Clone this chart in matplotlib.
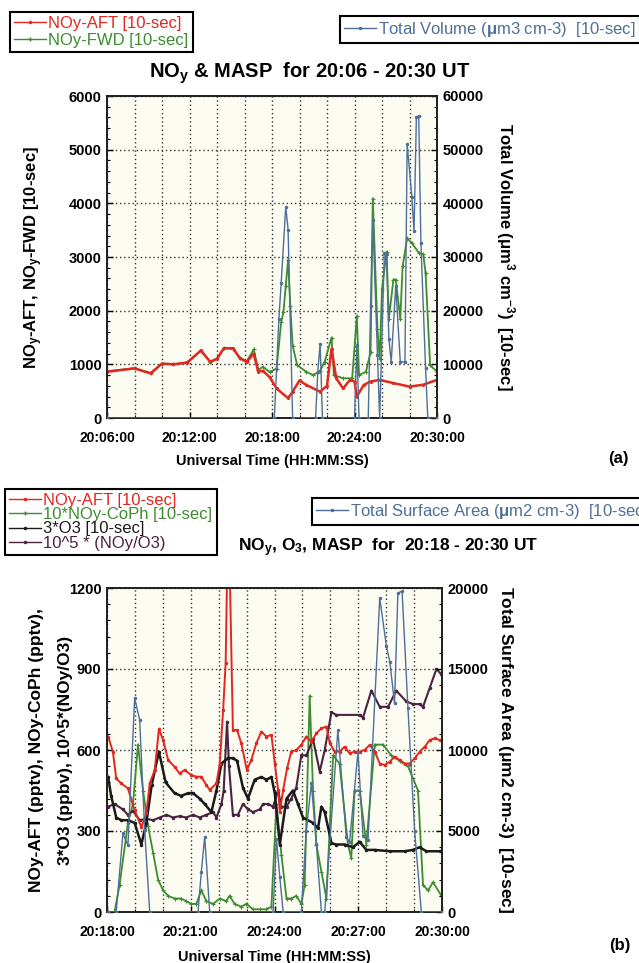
import matplotlib
matplotlib.use('Agg')
import matplotlib.pyplot as plt
from matplotlib.ticker import MultipleLocator, FuncFormatter
from matplotlib.lines import Line2D

plt.rcParams['font.family'] = ['Liberation Sans', 'DejaVu Sans']
plt.rcParams['font.weight'] = 'bold'
plt.rcParams['axes.labelweight'] = 'bold'
plt.rcParams['mathtext.fontset'] = 'custom'
plt.rcParams['mathtext.rm'] = 'Liberation Sans:bold'
plt.rcParams['mathtext.bf'] = 'Liberation Sans:bold'
plt.rcParams['mathtext.it'] = 'Liberation Sans:bold'
plt.rcParams['mathtext.default'] = 'rm'

# ---------------- Panel (a) data (time in minutes after 20:00 UT) ----------------
t_aft_a = [6.00, 8.00, 9.17, 10.00, 10.83, 11.83, 12.83, 13.50, 14.00, 14.50, 15.17, 15.67,
           16.17, 16.67, 17.00, 17.33, 17.83, 18.33, 19.17, 19.50, 20.00, 20.50, 21.50, 22.00,
           22.33, 22.67, 23.17, 23.67, 24.00, 24.17, 24.67, 25.17, 25.83, 26.83, 28.00, 29.00, 30.00]
noy_aft_a = [862, 923, 830, 1015, 1000, 1030, 1260, 1046, 1100, 1300, 1300, 1110,
             1046, 1200, 860, 880, 760, 550, 370, 490, 700, 615, 490, 600,
             1290, 740, 550, 710, 680, 400, 615, 680, 710, 650, 585, 620, 710]

t_fwd_a = [6.00, 8.00, 9.17, 10.00, 10.83, 11.83, 12.83, 13.50, 14.00, 14.50, 15.17, 15.67,
           16.17, 16.67, 17.00, 17.33, 17.83, 18.33, 18.67, 18.83, 19.00, 19.17, 19.33, 19.50,
           19.83, 20.50, 21.00, 21.50, 21.83, 22.33, 22.50, 23.17, 23.83, 24.17, 24.33, 24.83,
           25.17, 25.33, 25.67, 25.83, 26.00, 26.33, 26.50, 26.83, 27.00, 27.33, 27.50, 27.83,
           28.17, 28.67, 29.00, 29.17, 29.50, 30.00]
noy_fwd_a = [870, 930, 840, 1010, 1000, 1040, 1250, 1050, 1110, 1300, 1290, 1120,
             1060, 1280, 900, 950, 860, 920, 1785, 1970, 2460, 2950, 2090, 1350,
             985, 860, 800, 880, 1050, 1500, 800, 740, 740, 1900, 800, 860,
             1230, 4090, 1660, 1100, 2400, 3100, 1850, 2580, 2580, 1850, 2830, 3350,
             3260, 3080, 3050, 2700, 985, 860]

t_vol_a = [6.00, 18.17, 18.50, 18.67, 19.00, 19.17, 19.50, 21.17, 21.33, 21.50, 21.67, 24.00,
           24.17, 24.33, 25.00, 25.17, 25.33, 25.67, 25.83, 26.17, 26.33, 26.50, 26.67, 27.00,
           27.33, 27.67, 27.83, 28.17, 28.33, 28.50, 28.67, 28.83, 29.17, 29.33, 30.00]
volume_a = [0, 0, 18460, 25230, 39380, 35080, 0, 0, 8600, 13850, 0, 0,
            13540, 0, 0, 20920, 36920, 11690, 0, 30770, 30500, 14770, 10460, 24600,
            10460, 10460, 51080, 41230, 34770, 56000, 56300, 32600, 9230, 0, 0]

# ---------------- Panel (b) data ----------------
t_aft_b = [18.04, 18.21, 18.33, 18.51, 18.75, 18.99, 19.23, 19.41, 19.53, 19.71, 19.86, 20.01,
           20.19, 20.42, 20.60, 20.78, 21.02, 21.20, 21.38, 21.56, 21.68, 21.92, 22.04, 22.16,
           22.25, 22.31, 22.39, 22.51, 22.66, 22.81, 23.01, 23.17, 23.35, 23.53, 23.71, 23.89,
           24.01, 24.13, 24.19, 24.31, 24.45, 24.60, 24.78, 24.96, 25.14, 25.32, 25.50, 25.68,
           25.86, 25.98, 26.16, 26.33, 26.51, 26.69, 26.87, 27.05, 27.23, 27.41, 27.59, 27.77,
           27.95, 28.13, 28.30, 28.48, 28.66, 28.84, 29.02, 29.20, 29.38, 29.56, 29.74, 29.92]
noy_aft_b = [650, 594, 495, 476, 458, 377, 315, 365, 476, 526, 677, 637,
             563, 538, 513, 526, 507, 501, 501, 470, 452, 476, 550, 748,
             921, 1300, 1300, 674, 674, 625, 526, 563, 625, 668, 650, 656,
             550, 452, 371, 452, 532, 594, 600, 619, 650, 631, 662, 680,
             687, 625, 594, 594, 612, 588, 594, 594, 600, 619, 594, 550,
             544, 557, 575, 563, 550, 550, 569, 594, 612, 637, 643, 637]

t_coph_b = [18.04, 18.27, 18.45, 18.75, 18.93, 19.11, 19.29, 19.47, 19.65, 19.83, 20.01, 20.19,
            20.42, 20.66, 20.84, 21.02, 21.20, 21.38, 21.56, 21.80, 22.04, 22.27, 22.39, 22.57,
            22.81, 22.99, 23.23, 23.47, 23.71, 23.89, 24.07, 24.25, 24.43, 24.60, 24.78, 24.96,
            25.08, 25.26, 25.38, 25.50, 25.68, 25.86, 26.10, 26.33, 26.63, 26.75, 26.87, 27.05,
            27.29, 27.59, 27.89, 28.18, 28.48, 28.78, 29.14, 29.32, 29.50, 29.68, 29.98]
noy_coph_b = [0, 0, 100, 330, 400, 620, 450, 320, 220, 120, 80, 60,
              50, 50, 40, 30, 30, 80, 40, 30, 50, 40, 60, 30,
              20, 30, 10, 10, 10, 20, 400, 210, 50, 50, 60, 30,
              100, 800, 450, 250, 150, 50, 580, 550, 250, 200, 450, 450,
              250, 620, 620, 580, 560, 540, 450, 100, 80, 110, 60]

t_o3_b = [18.04, 18.15, 18.33, 18.51, 18.75, 18.99, 19.23, 19.41, 19.60, 19.86, 20.10, 20.42,
          20.66, 20.90, 21.08, 21.32, 21.50, 21.74, 21.92, 22.10, 22.34, 22.51, 22.66, 22.87,
          23.05, 23.29, 23.53, 23.71, 23.89, 24.01, 24.19, 24.43, 24.66, 24.84, 25.02, 25.38,
          25.56, 25.68, 25.80, 26.04, 26.21, 26.51, 26.81, 27.05, 27.29, 27.59, 28.13, 28.66,
          28.96, 29.20, 29.44, 29.92]
o3x3_b = [500, 430, 350, 340, 340, 330, 250, 330, 470, 594, 480, 440,
          430, 440, 440, 420, 400, 370, 450, 550, 570, 570, 560, 460,
          420, 490, 500, 490, 500, 440, 250, 420, 450, 400, 350, 330,
          310, 390, 370, 255, 250, 250, 240, 260, 230, 230, 225, 225,
          230, 240, 225, 225]

t_ratio_b = [18.04, 18.27, 18.57, 18.75, 18.93, 19.17, 19.41, 19.65, 19.89, 20.13, 20.36, 20.60,
             20.84, 21.08, 21.32, 21.56, 21.80, 21.92, 22.10, 22.18, 22.30, 22.37, 22.51, 22.69,
             22.87, 23.05, 23.23, 23.47, 23.59, 23.77, 23.95, 24.13, 24.25, 24.43, 24.60, 24.78,
             24.96, 25.14, 25.38, 25.62, 25.80, 26.04, 26.21, 27.05, 27.17, 27.47, 27.77, 28.07,
             28.36, 28.72, 28.96, 29.20, 29.32, 29.56, 29.80, 29.98]
ratio_b = [390, 400, 380, 360, 375, 340, 345, 340, 350, 360, 350, 355,
           350, 360, 350, 360, 370, 350, 400, 450, 705, 540, 360, 360,
           400, 380, 370, 380, 400, 400, 390, 450, 390, 390, 420, 460,
           580, 580, 640, 520, 600, 740, 730, 730, 720, 820, 760, 760,
           820, 780, 770, 770, 760, 830, 900, 880]

t_sa_b = [18.04, 18.33, 18.57, 18.75, 18.99, 19.17, 19.35, 19.53, 21.26, 21.38, 21.50, 21.68,
          23.95, 24.07, 24.19, 24.31, 24.96, 25.14, 25.32, 25.50, 25.68, 25.80, 26.27, 26.57,
          26.69, 26.99, 27.17, 27.35, 27.77, 28.01, 28.13, 28.30, 28.42, 28.57, 28.78, 29.02,
          29.26, 30.00]
surface_b = [0, 0, 4850, 4120, 13200, 11860, 5050, 0, 0, 2500, 4640, 0,
             0, 4500, 2160, 0, 0, 5000, 7940, 4200, 0, 0, 11240, 4640,
             4300, 9900, 4700, 4430, 19380, 16390, 15460, 12890, 19690, 19800, 12580, 5000,
             0, 0]

# ---------------- styling ----------------
RED = '#e3261f'
GREEN = '#3d8c2f'
BLUE = '#4d6f98'
BLACK = '#1a1a1a'
PURPLE = '#4a2340'
FACE = '#fcfcf2'
XTICK_FS = 10
YTICK_FS = 10.5
XLAB_FS = 10.5
YLAB_FS = 12
LEG_FS = 12

def hms(x, pos=None):
    m = int(round(x))
    return "20:%02d:00" % m

def style_axes(ax, ax2):
    ax.set_facecolor(FACE)
    ax2.set_facecolor('none')
    for a in (ax, ax2):
        for s in a.spines.values():
            s.set_linewidth(1.3)
            s.set_color('#222222')
    ax.tick_params(axis='both', which='both', direction='in', top=False, right=False)
    ax.tick_params(axis='x', labelsize=XTICK_FS, pad=9)
    ax.tick_params(axis='y', labelsize=YTICK_FS, pad=4)
    ax.tick_params(which='major', length=4, width=1)
    ax.tick_params(which='minor', length=2.5, width=0.8)
    ax2.tick_params(axis='y', which='both', direction='in', labelsize=YTICK_FS, pad=4)
    ax2.tick_params(which='major', length=4, width=1)
    ax2.tick_params(which='minor', length=2.5, width=0.8)
    ax.xaxis.set_major_formatter(FuncFormatter(hms))
    ax.grid(True, which='major', axis='y', color='#333333', linestyle=(0, (1, 2)), linewidth=1.0)
    ax.grid(True, which='both', axis='x', color='#333333', linestyle=(0, (1, 2)), linewidth=1.0)
    for lab in ax.get_xticklabels() + ax.get_yticklabels() + ax2.get_yticklabels():
        lab.set_fontweight('bold')

def make_legend(handles, labels, colors, anchor, spacing):
    leg = fig.legend(handles=handles, labels=labels, loc='upper left', bbox_to_anchor=anchor,
                     fontsize=LEG_FS, frameon=True, fancybox=False, framealpha=1,
                     edgecolor='black', handlelength=1.9, handletextpad=0.15,
                     labelspacing=spacing, borderpad=0.25, borderaxespad=0)
    leg.get_frame().set_linewidth(1.5)
    for txt, c in zip(leg.get_texts(), colors):
        txt.set_color(c)
        txt.set_fontweight('normal')
    return leg

fig = plt.figure(figsize=(6.39, 9.63), dpi=100)

# ================= Panel (a) =================
ax1 = fig.add_axes([107/639, 1-418/963, 330/639, 322/963])
ax1b = ax1.twinx()
ax1.set_xlim(6, 30)
ax1.set_ylim(0, 6000)
ax1b.set_ylim(0, 60000)
ax1.xaxis.set_major_locator(MultipleLocator(6))
ax1.xaxis.set_minor_locator(MultipleLocator(2))
ax1.yaxis.set_major_locator(MultipleLocator(1000))
ax1.yaxis.set_minor_locator(MultipleLocator(200))
ax1b.yaxis.set_major_locator(MultipleLocator(10000))
ax1b.yaxis.set_minor_locator(MultipleLocator(2000))

ax1.plot(t_fwd_a, noy_fwd_a, color=GREEN, lw=1.3, marker='+', ms=3.5, mew=0.8, zorder=3)
ax1.plot(t_aft_a, noy_aft_a, color=RED, lw=1.8, marker='.', ms=2.5, zorder=4)
ax1b.plot(t_vol_a, volume_a, color=BLUE, lw=1.0, marker='.', ms=3, zorder=5)
style_axes(ax1, ax1b)

ax1.set_xlabel('Universal Time (HH:MM:SS)', fontsize=XLAB_FS, fontweight='bold', labelpad=7)
ax1.set_ylabel(r'NO$_{y}$-AFT, NO$_{y}$-FWD [10-sec]', fontsize=YLAB_FS, fontweight='bold',
               labelpad=17)
ax1b.set_ylabel(r'Total Volume ($\mu$m$^{3}$ cm$^{-3}$)  [10-sec]', fontsize=YLAB_FS,
                fontweight='bold', rotation=270, labelpad=24)

fig.text(310/639, 1-73/963, r'NO$_{y}$ & MASP  for 20:06 - 20:30 UT', ha='center', va='center',
         fontsize=14.5, fontweight='bold')
fig.text(618/639, 1-458/963, '(a)', ha='center', va='center', fontsize=12, fontweight='bold')

make_legend([Line2D([], [], color=RED, lw=1, marker='.', ms=3),
             Line2D([], [], color=GREEN, lw=1, marker='+', ms=3.5)],
            ['NOy-AFT [10-sec]', 'NOy-FWD [10-sec]'], [RED, GREEN],
            (10/639, 1-12/963), 0.08)
make_legend([Line2D([], [], color=BLUE, lw=1, marker='.', ms=3)],
            [r'Total Volume ($\mu$m3 cm-3)  [10-sec]'], [BLUE],
            (340/639, 1-16/963), 0.1)

# ================= Panel (b) =================
ax2 = fig.add_axes([107/639, 1-912/963, 335/639, 324/963])
ax2b = ax2.twinx()
ax2.set_xlim(18, 30)
ax2.set_ylim(0, 1200)
ax2b.set_ylim(0, 20000)
ax2.xaxis.set_major_locator(MultipleLocator(3))
ax2.xaxis.set_minor_locator(MultipleLocator(1))
ax2.yaxis.set_major_locator(MultipleLocator(300))
ax2.yaxis.set_minor_locator(MultipleLocator(60))
ax2b.yaxis.set_major_locator(MultipleLocator(5000))
ax2b.yaxis.set_minor_locator(MultipleLocator(1000))

ax2.plot(t_coph_b, noy_coph_b, color=GREEN, lw=1.3, marker='+', ms=3.5, mew=0.8, zorder=3)
ax2.plot(t_ratio_b, ratio_b, color=PURPLE, lw=1.5, marker='.', ms=3, zorder=4)
ax2.plot(t_o3_b, o3x3_b, color=BLACK, lw=1.8, marker='.', ms=3, zorder=4)
ax2.plot(t_aft_b, noy_aft_b, color=RED, lw=1.4, marker='.', ms=3, zorder=5)
ax2b.plot(t_sa_b, surface_b, color=BLUE, lw=1.0, marker='.', ms=3, zorder=5)
style_axes(ax2, ax2b)

ax2.set_xlabel('Universal Time (HH:MM:SS)', fontsize=XLAB_FS, fontweight='bold', labelpad=8)
ax2.set_ylabel('NOy-AFT (pptv), NOy-CoPh (pptv),\n3*O3 (ppbv), 10^5*(NOy/O3)',
               fontsize=12.5, fontweight='bold', labelpad=-3, linespacing=2.2)
ax2b.set_ylabel(r'Total Surface Area ($\mu$m2 cm-3)  [10-sec]', fontsize=12.5,
                fontweight='bold', rotation=270, labelpad=19)

fig.text(388/639, 1-548/963, r'NO$_{y}$, O$_{3}$, MASP  for  20:18 - 20:30 UT', ha='center',
         va='center', fontsize=12.5, fontweight='bold')
fig.text(620/639, 1-945/963, '(b)', ha='center', va='center', fontsize=12, fontweight='bold')

make_legend([Line2D([], [], color=RED, lw=1, marker='.', ms=3),
             Line2D([], [], color=GREEN, lw=1, marker='+', ms=3.5),
             Line2D([], [], color=BLACK, lw=1, marker='.', ms=3),
             Line2D([], [], color=PURPLE, lw=1, marker='.', ms=3)],
            ['NOy-AFT [10-sec]', '10*NOy-CoPh [10-sec]', '3*O3 [10-sec]', '10^5 * (NOy/O3)'],
            [RED, GREEN, BLACK, PURPLE], (5/639, 1-489/963), -0.05)
make_legend([Line2D([], [], color=BLUE, lw=1, marker='.', ms=3)],
            [r'Total Surface Area ($\mu$m2 cm-3)  [10-sec]'], [BLUE],
            (312/639, 1-498/963), 0.1)

fig.savefig('out.png', dpi=100)
